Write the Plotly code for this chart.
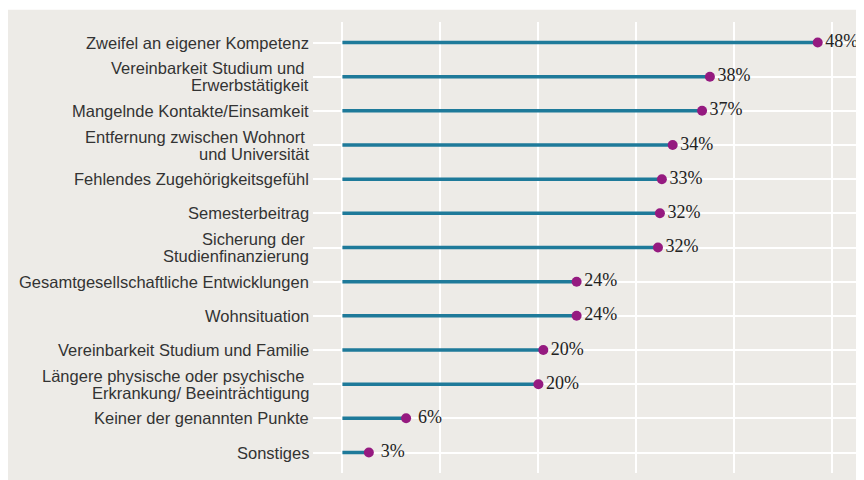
import plotly.graph_objects as go

# --- Dati ---
categorie = [
    "Zweifel an eigener Kompetenz",
    "Vereinbarkeit Studium und <br>Erwerbstätigkeit",
    "Mangelnde Kontakte/Einsamkeit",
    "Entfernung zwischen Wohnort <br>und Universität",
    "Fehlendes Zugehörigkeitsgefühl",
    "Semesterbeitrag",
    "Sicherung der <br>Studienfinanzierung",
    "Gesamtgesellschaftliche Entwicklungen",
    "Wohnsituation",
    "Vereinbarkeit Studium und Familie",
    "Längere physische oder psychische <br>Erkrankung/ Beeinträchtigung",
    "Keiner der genannten Punkte",
    "Sonstiges",
]
valori = [48.5, 37.5, 36.7, 33.7, 32.6, 32.4, 32.2, 23.9, 23.9, 20.5, 20.0, 6.5, 2.7]
etichette = ["48%", "38%", "37%", "34%", "33%", "32%", "32%", "24%", "24%", "20%", "20%", "6%", "3%"]
griglia_x = [0, 10, 20, 30, 40, 50]

GRIGIO = "#EDEBE7"
BLU = "#1E7A9A"
VIOLA = "#951A80"

# segmenti da 0 al valore
seg_x, seg_y = [], []
for c, v in zip(categorie, valori):
    seg_x += [0, v, None]
    seg_y += [c, c, None]

fig = go.Figure()

fig.add_trace(go.Scatter(
    x=seg_x, y=seg_y, mode="lines",
    line=dict(color=BLU, width=3.5),
    hoverinfo="skip", showlegend=False,
))

fig.add_trace(go.Scatter(
    x=valori, y=categorie, mode="markers",
    marker=dict(color=VIOLA, size=10),
    showlegend=False,
))

# etichette percentuali, centrate poco a destra del punto
fig.add_trace(go.Scatter(
    x=[v + 2.45 for v in valori], y=categorie, mode="text",
    text=etichette, textposition="middle center",
    textfont=dict(family="Liberation Serif", size=18, color="#222222"),
    hoverinfo="skip", showlegend=False,
))

# etichette dell'asse y come annotazioni, una per riga (interlinea stretta)
for c in categorie:
    righe = c.split("<br>")
    n = len(righe)
    for i, r in enumerate(righe):
        fig.add_annotation(
            x=0, xref="paper", xanchor="right", xshift=-2,
            y=c, yref="y", yanchor="middle",
            yshift=((n - 1) / 2 - i) * 17,
            text=r, showarrow=False,
            font=dict(family="Liberation Sans", size=16.5, color="#333333"),
        )

# pannello grigio (esteso oltre l'area del grafico)
fig.add_shape(
    type="rect", xref="paper", yref="paper",
    x0=-0.56, x1=1.05, y0=-0.05, y1=1.027,
    fillcolor=GRIGIO, line=dict(width=0), layer="below",
)

fig.update_layout(
    width=864, height=480,
    margin=dict(l=305, r=0, t=14, b=15),
    paper_bgcolor="white",
    plot_bgcolor=GRIGIO,
    showlegend=False,
    font=dict(family="Liberation Sans", size=16, color="#333333"),
)

fig.update_xaxes(
    range=[-3, 54.04],
    tickvals=griglia_x,
    showticklabels=False,
    showgrid=True, gridcolor="white", gridwidth=1.5,
    zeroline=False, showline=False,
)

fig.update_yaxes(
    type="category",
    categoryorder="array", categoryarray=categorie,
    range=[len(categorie) - 0.4, -0.6],
    showgrid=True, gridcolor="white", gridwidth=1.5,
    zeroline=False, showline=False,
    showticklabels=False, ticks="",
)

fig.write_html("out.html")
